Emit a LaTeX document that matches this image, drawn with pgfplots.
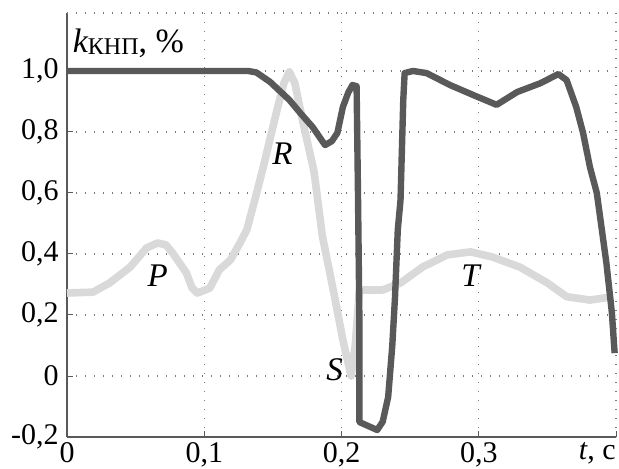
\documentclass[border=0pt]{standalone}
\usepackage{fontspec}
\setmainfont{Liberation Serif}
\usepackage{pgfplots}
\pgfplotsset{compat=1.18}
\definecolor{darkc}{HTML}{595959}
\definecolor{lightc}{HTML}{D9D9D9}
\definecolor{gridc}{HTML}{7A7A7A}

\begin{document}
\fontsize{15}{17}\selectfont
\begin{tikzpicture}
\path[use as bounding box] (-33.5pt,-15.5pt) rectangle (276pt,218.5pt);
\begin{axis}[
  scale only axis,
  width=274.5pt, height=212pt,
  xmin=0, xmax=0.4, ymin=-0.2, ymax=1.19,
  axis x line*=bottom, axis y line*=left,
  axis line style={draw=darkc, line width=0.6pt},
  xtick={0,0.1,0.2,0.3,0.4},
  xticklabels={0,{0,1},{0,2},{0,3},{}},
  ytick={-0.2,0,0.2,0.4,0.6,0.8,1.0},
  yticklabels={-0{,}2,0,{0,2},{0,4},{0,6},{0,8},{1,0}},
  extra y ticks={1.19}, extra y tick labels={},
  extra tick style={major tick length=0pt},
  tick align=inside, major tick length=3pt,
  tick style={draw=darkc, line width=0.5pt},
  grid=major,
  major grid style={draw=gridc, line width=0.7pt, dash pattern=on 0.7pt off 3.8pt},
  ticklabel style={font=\fontsize{15}{17}\selectfont},
  /pgf/number format/assume math mode=true,
  yticklabel style={xshift=1pt},
  xticklabel style={inner sep=0pt, yshift=-2.5pt},
  clip=false,
]
\addplot[lightc, line width=3.8pt, line join=round] coordinates {
  (0,0.272) (0.019,0.275) (0.031,0.305) (0.046,0.357) (0.058,0.42)
  (0.066,0.436) (0.072,0.43) (0.077,0.403) (0.087,0.338) (0.091,0.29)
  (0.095,0.272) (0.104,0.288) (0.111,0.348) (0.119,0.38) (0.126,0.436)
  (0.131,0.479) (0.137,0.58) (0.143,0.685) (0.153,0.872) (0.158,0.96)
  (0.162,0.997) (0.166,0.96) (0.172,0.83) (0.180,0.67) (0.186,0.46)
  (0.194,0.282) (0.201,0.118) (0.207,0.0) (0.210,0.1) (0.213,0.28)
  (0.216,0.282) (0.230,0.282) (0.243,0.305) (0.259,0.357) (0.277,0.397)
  (0.294,0.407) (0.310,0.39) (0.330,0.357) (0.350,0.305) (0.364,0.26)
  (0.381,0.249) (0.398,0.26)
};
\addplot[darkc, line width=3.2pt, line join=round] coordinates {
  (0,1.0) (0.132,1.0) (0.138,0.995) (0.148,0.964) (0.162,0.905)
  (0.170,0.862) (0.179,0.816) (0.188,0.757) (0.193,0.77) (0.197,0.797)
  (0.201,0.882) (0.205,0.93) (0.208,0.954) (0.211,0.95) (0.212,0.6)
  (0.213,0.2) (0.213,-0.151) (0.220,-0.165) (0.226,-0.177) (0.230,-0.15)
  (0.234,-0.069) (0.237,0.1) (0.239,0.26) (0.241,0.479) (0.243,0.577)
  (0.245,0.905) (0.246,0.993) (0.252,1.0) (0.262,0.993) (0.279,0.954)
  (0.296,0.921) (0.313,0.889) (0.328,0.931) (0.345,0.96) (0.358,0.990)
  (0.364,0.97) (0.371,0.882) (0.376,0.797) (0.381,0.685) (0.386,0.6)
  (0.390,0.469) (0.393,0.37) (0.397,0.207) (0.399,0.075)
};
\node[font=\fontsize{16.5}{18}\selectfont\itshape] at (axis cs:0.066,0.33) {P};
\node[font=\fontsize{16.5}{18}\selectfont\itshape] at (axis cs:0.157,0.73) {R};
\node[font=\fontsize{16.5}{18}\selectfont\itshape] at (axis cs:0.195,0.02) {S};
\node[font=\fontsize{16.5}{18}\selectfont\itshape] at (axis cs:0.294,0.33) {T};
\node[anchor=base west, inner sep=0pt, font=\fontsize{17}{19}\selectfont]
  at (axis cs:0.004,1.06)
  {\itshape k\upshape\raisebox{-1pt}{\fontsize{12}{13}\selectfont КНП}, \%};
\node[anchor=north east, inner sep=0pt] at ([yshift=-2.5pt]rel axis cs:1,0)
  {\itshape t\upshape, c};
\end{axis}
\end{tikzpicture}
\end{document}
